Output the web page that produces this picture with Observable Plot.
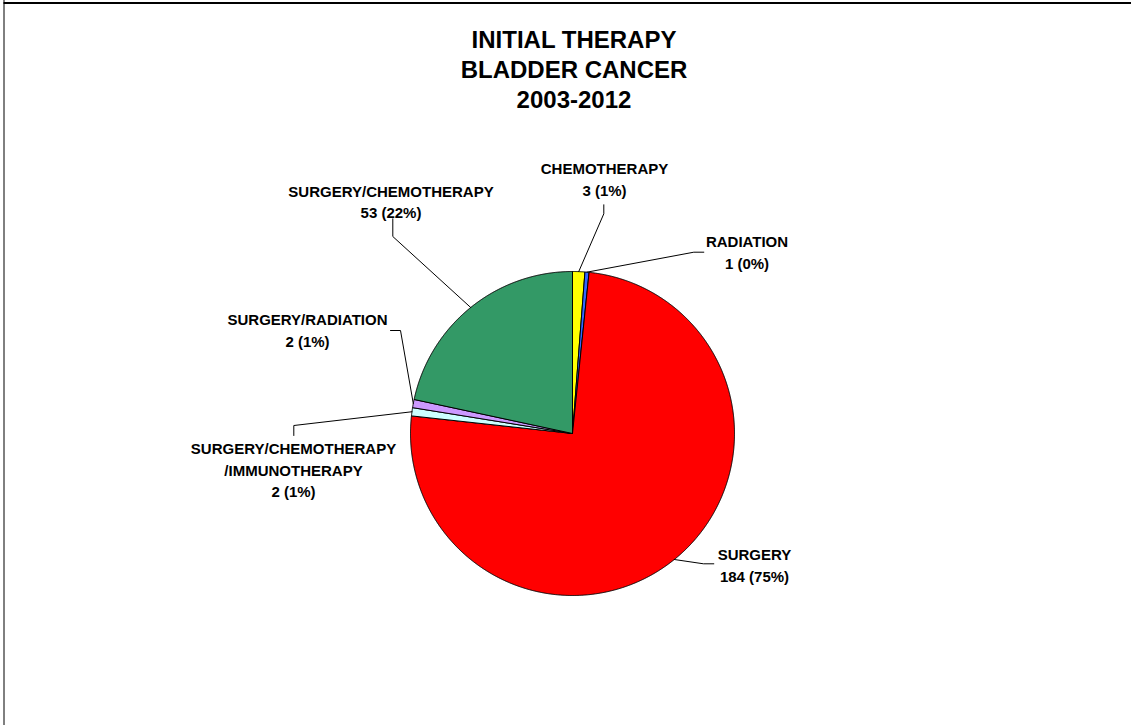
<!DOCTYPE html>
<html><head><meta charset="utf-8">
<script src="https://cdn.jsdelivr.net/npm/d3@7"></script>
<script src="https://cdn.jsdelivr.net/npm/@observablehq/plot@0.6"></script>
<style>
html,body{margin:0;padding:0;background:#fff;}
#chart{width:1131px;height:725px;}
#chart svg{display:block;}
</style></head><body>
<div id="chart"></div>
<script>
// ---- data ----
const categories = ["CHEMOTHERAPY", "RADIATION", "SURGERY", "SURGERY/CHEMOTHERAPY\n/IMMUNOTHERAPY", "SURGERY/RADIATION", "SURGERY/CHEMOTHERAPY"];
const counts = [3, 1, 184, 2, 2, 53];
const sliceColors = ["#FFFF00", "#3366FF", "#FF0000", "#CCFFFF", "#CC99FF", "#339966"];
const titleLines = ["INITIAL THERAPY", "BLADDER CANCER", "2003-2012"];

// ---- layout (pixels) ----
const W = 1131, H = 725, CX = 572, CY = 433, R = 162;
const FRAME_LEFT = 3.5, FRAME_TOP = 2.5;
// label anchor (center x, last-line baseline) and leader elbow/end points
const labelLayout = [
  {lx: 604,   ly: 195,   elbow: [603.3, 213.3], end: [603.3, 204.3]},
  {lx: 746.5, ly: 268.3, elbow: [693.3, 251.7], end: [703.3, 251.7]},
  {lx: 754,   ly: 581,   elbow: [703,   563.3], end: [713.3, 563.3]},
  {lx: 293,   ly: 496.5, elbow: [293.3, 425],   end: [293.3, 435]},
  {lx: 307,   ly: 346,   elbow: [400,   330],   end: [390,   330]},
  {lx: 390.5, ly: 217.7, elbow: [392.3, 236],   end: [392.3, 218.3]}
];
const titleLayout = {x: 573.5, lastBaseline: 107};

const toX = px => (px - CX) / R;
const toY = py => (CY - py) / R;

const total = d3.sum(counts);
const arcs = d3.pie().sort(null).value(d => d)(counts);

// slice outlines in pie units (radius = 1), angle 0 at 12 o'clock, clockwise
const slicePts = [];
arcs.forEach((a, i) => {
  const name = categories[i];
  slicePts.push({name, x: 0, y: 0});
  const n = Math.max(2, Math.ceil((a.endAngle - a.startAngle) / (Math.PI / 720)));
  for (let k = 0; k <= n; ++k) {
    const t = a.startAngle + (a.endAngle - a.startAngle) * k / n;
    slicePts.push({name, x: Math.sin(t), y: Math.cos(t)});
  }
  slicePts.push({name, x: 0, y: 0});
});

const leaderPts = [];
const labelData = [];
arcs.forEach((a, i) => {
  const name = categories[i];
  const mid = (a.startAngle + a.endAngle) / 2;
  const L = labelLayout[i];
  leaderPts.push({name, x: Math.sin(mid), y: Math.cos(mid)});
  leaderPts.push({name, x: toX(L.elbow[0]), y: toY(L.elbow[1])});
  leaderPts.push({name, x: toX(L.end[0]), y: toY(L.end[1])});
  const pct = Math.round(counts[i] / total * 100);
  labelData.push({x: toX(L.lx), y: toY(L.ly), text: `${name}\n${counts[i]} (${pct}%)`});
});

const font = "'Liberation Sans', Arial, Helvetica, sans-serif";

const plot = Plot.plot({
  width: W, height: H, margin: 0,
  style: {background: "#fff", overflow: "hidden"},
  x: {domain: [toX(0), toX(W)], axis: null},
  y: {domain: [toY(H), toY(0)], axis: null},
  color: {domain: categories, range: sliceColors},
  marks: [
    // chart-area border (left and top edges only are visible)
    Plot.ruleX([toX(FRAME_LEFT)], {stroke: "#000", strokeWidth: 1}),
    Plot.ruleY([toY(FRAME_TOP)], {x1: toX(FRAME_LEFT), x2: toX(W + 5), stroke: "#000", strokeWidth: 2}),
    Plot.line(slicePts, {x: "x", y: "y", z: "name", fill: "name", stroke: "#000", strokeWidth: 1, strokeLinejoin: "round"}),
    Plot.line(leaderPts, {x: "x", y: "y", z: "name", stroke: "#000", strokeWidth: 1}),
    Plot.text(labelData, {x: "x", y: "y", text: "text", lineAnchor: "bottom", lineHeight: 1.43,
      fontSize: 15, fontWeight: "bold", fontFamily: font, fill: "#000", textAnchor: "middle"}),
    Plot.text([titleLines.join("\n")], {x: toX(titleLayout.x), y: toY(titleLayout.lastBaseline), text: d => d,
      lineAnchor: "bottom", lineHeight: 1.23, fontSize: 24, fontWeight: "bold", fontFamily: font, fill: "#000", textAnchor: "middle"})
  ]
});
document.getElementById("chart").append(plot);
</script>
</body></html>
